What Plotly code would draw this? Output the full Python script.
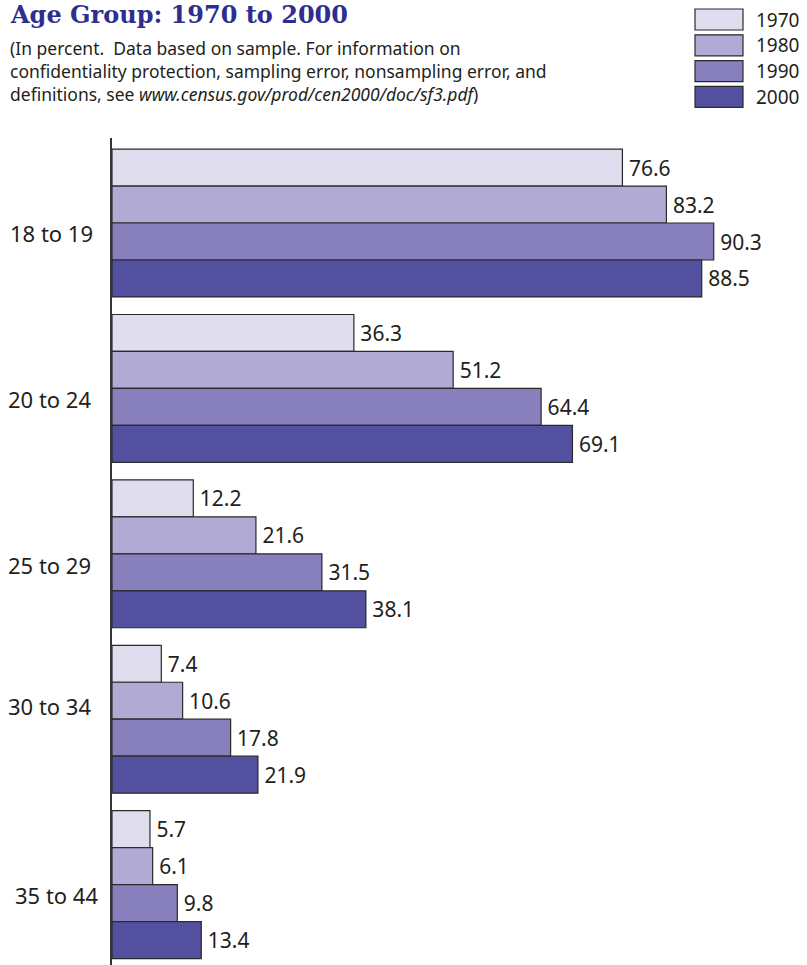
import plotly.graph_objects as go

# ---- data ----
age_groups = ["18 to 19", "20 to 24", "25 to 29", "30 to 34", "35 to 44"]
years = ["1970", "1980", "1990", "2000"]
v1970 = [76.6, 36.3, 12.2, 7.4, 5.7]
v1980 = [83.2, 51.2, 21.6, 10.6, 6.1]
v1990 = [90.3, 64.4, 31.5, 17.8, 9.8]
v2000 = [88.5, 69.1, 38.1, 21.9, 13.4]
series = [v1970, v1980, v1990, v2000]
colors = ["#E0DDEF", "#B1AAD4", "#8880BC", "#5450A0"]

title_text = "Age Group: 1970 to 2000"
subtitle_text = ("(In percent.  Data based on sample. For information on<br>"
                 "confidentiality protection, sampling error, nonsampling error, and<br>"
                 "definitions, see <i>www.census.gov/prod/cen2000/doc/sf3.pdf</i>)")

# ---- layout helpers (pixel -> paper) ----
W, H = 807, 965
ML, MR, MT, MB = 112, 0, 138, 0
PW, PH = W - ML - MR, H - MT - MB


def px_x(p):
    return (p - ML) / PW


def px_y(p):
    return (H - MB - p) / PH


TXT = "#231F20"
FONT = "Noto Sans"

fig = go.Figure()
for yr, vals, col in zip(years, series, colors):
    fig.add_trace(go.Bar(
        y=age_groups, x=vals, name=yr, orientation="h",
        marker=dict(color=col, line=dict(color="#2a2a2a", width=1.2)),
        text=[f"\u2009{v:.1f}" for v in vals], textposition="outside",
        textfont=dict(family=FONT, size=21, color=TXT),
        cliponaxis=False, showlegend=False, hoverinfo="skip",
    ))

annotations = []
# category labels
label_right = [95, 93, 93, 93, 100]
label_offset = [10, 11, 11, -13, 10]
for i, (g, rx, off) in enumerate(zip(age_groups, label_right, label_offset)):
    annotations.append(dict(
        text=g, xref="paper", yref="y", x=px_x(rx), y=i + off / 165.5,
        xanchor="right", yanchor="middle", showarrow=False,
        font=dict(family=FONT, size=22, color=TXT)))

# title & subtitle
annotations.append(dict(
    text="<b>" + title_text + "</b>", xref="paper", yref="paper",
    x=px_x(8), y=px_y(14), xanchor="left", yanchor="middle", showarrow=False,
    font=dict(family="DejaVu Serif", size=24, color="#2D2E8F")))
annotations.append(dict(
    text=subtitle_text, xref="paper", yref="paper", align="left",
    x=px_x(8), y=px_y(71), xanchor="left", yanchor="middle", showarrow=False,
    font=dict(family=FONT, size=17.5, color=TXT)))

# legend (boxes + labels)
shapes = []
for i, (yr, col) in enumerate(zip(years, colors)):
    top = 9 + i * 25.8
    bot = top + 21
    shapes.append(dict(type="rect", xref="paper", yref="paper",
                       x0=px_x(695), x1=px_x(743), y0=px_y(bot), y1=px_y(top),
                       fillcolor=col, line=dict(color="#2a2a2a", width=1.2)))
    annotations.append(dict(
        text=yr, xref="paper", yref="paper", x=px_x(754), y=px_y((top + bot) / 2),
        xanchor="left", yanchor="middle", showarrow=False,
        font=dict(family=FONT, size=19, color=TXT)))

fig.update_layout(
    width=W, height=H,
    margin=dict(l=ML, r=MR, t=MT, b=MB, pad=0),
    paper_bgcolor="white", plot_bgcolor="white",
    barmode="group", bargap=0.106, bargroupgap=0,
    xaxis=dict(range=[0, 104.3], visible=False, showgrid=False, zeroline=False),
    yaxis=dict(type="category", range=[4.486, -0.514], showticklabels=False,
               ticks="", showgrid=False, zeroline=False,
               showline=True, linecolor="#333333", linewidth=1.5),
    annotations=annotations, shapes=shapes,
    font=dict(family=FONT, color=TXT),
)

fig.write_html(
    "out.html",
    config={"displayModeBar": False},
    post_script="document.body.style.margin='0';document.body.style.overflow='hidden';",
)
